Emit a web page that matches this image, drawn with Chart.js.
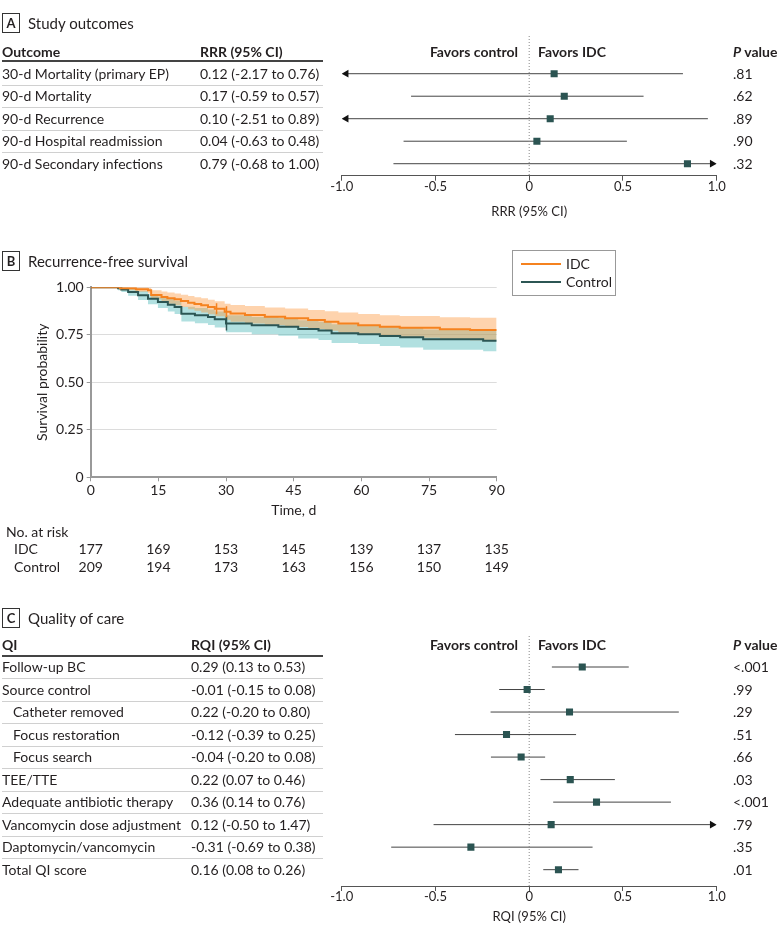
<!DOCTYPE html>
<html>
<head>
<meta charset="utf-8">
<script src="https://cdn.jsdelivr.net/npm/chart.js@4.4.1/dist/chart.umd.min.js"></script>
<style>
  body { margin: 0; background: #fff; }
  #page { position: relative; width: 783px; height: 936px; overflow: hidden; font-family: Lato, sans-serif; color: #231f20; }
  canvas { position: absolute; left: 0; }
  .t { position: absolute; white-space: nowrap; font-size: 14px; line-height: 16px; transform: translateY(-50%); }
  .b { font-weight: bold; }
  .r { transform: translate(-100%, -50%); }
  .rule { position: absolute; }
  .tag { position: absolute; left: 2px; width: 16px; height: 18px; border: 1px solid #333; font-weight: bold; font-size: 13px; line-height: 18px; text-align: center; }
  #legend { position: absolute; left: 512px; top: 250px; width: 102px; height: 44px; border: 1px solid #999; }
  .sw { position: absolute; left: 8px; width: 40px; height: 2px; }
</style>
</head>
<body>
<div id="page">
  <canvas id="forestA" width="783" height="230" style="top:0"></canvas>
  <canvas id="km" width="783" height="340" style="top:240px"></canvas>
  <canvas id="forestC" width="783" height="336" style="top:600px"></canvas>
  <div id="legend">
    <div class="sw" style="top:12px;background:#f5821f"></div>
    <div class="t" style="left:53px;top:13px">IDC</div>
    <div class="sw" style="top:30px;background:#2c5654"></div>
    <div class="t" style="left:53px;top:31px">Control</div>
  </div>
</div>
<script>
// Panel A: study outcomes
const outcomes = ["30-d Mortality (primary EP)", "90-d Mortality", "90-d Recurrence", "90-d Hospital readmission", "90-d Secondary infections"];
const outcomeCI = ["0.12 (-2.17 to 0.76)", "0.17 (-0.59 to 0.57)", "0.10 (-2.51 to 0.89)", "0.04 (-0.63 to 0.48)", "0.79 (-0.68 to 1.00)"];
const outcomeP = [".81", ".62", ".89", ".90", ".32"];
const outcomeEst = [0.133, 0.187, 0.112, 0.041, 0.844];
const outcomeLow = [-2.17, -0.63, -2.51, -0.67, -0.724];
const outcomeHigh = [0.82, 0.61, 0.953, 0.521, 1.0];

// Panel B: recurrence-free survival
const idcTime = [0, 6.5, 10, 12.7, 13.4, 15.7, 17, 18.6, 20, 21.6, 23, 24.5, 26, 27.5, 29.7, 31, 34.2, 38.6, 43.1, 48.2, 51.9, 54.9, 59.3, 64.1, 68.5, 77.4, 84.1, 90];
const idcSurv = [1, 0.995, 0.99, 0.984, 0.96, 0.949, 0.943, 0.937, 0.928, 0.919, 0.912, 0.905, 0.896, 0.887, 0.871, 0.862, 0.854, 0.845, 0.837, 0.828, 0.819, 0.81, 0.8, 0.793, 0.787, 0.779, 0.775, 0.775];
const idcUpper = [1, 1, 1, 0.998, 0.985, 0.978, 0.973, 0.968, 0.961, 0.954, 0.948, 0.942, 0.934, 0.927, 0.914, 0.907, 0.901, 0.894, 0.888, 0.881, 0.874, 0.867, 0.859, 0.853, 0.849, 0.843, 0.84, 0.84];
const idcLower = [1, 0.985, 0.976, 0.968, 0.937, 0.922, 0.914, 0.906, 0.896, 0.885, 0.876, 0.868, 0.858, 0.848, 0.829, 0.819, 0.81, 0.8, 0.791, 0.781, 0.771, 0.761, 0.75, 0.742, 0.735, 0.726, 0.721, 0.721];
const ctlTime = [0, 6.05, 6.8, 8.3, 10.5, 12.7, 14.9, 17.1, 18.6, 20.1, 23.1, 26, 27.5, 30, 35.7, 41.6, 46, 50.5, 53.4, 59.3, 64.1, 68.6, 73.7, 87, 90];
const ctlSurv = [1, 0.995, 0.989, 0.975, 0.958, 0.94, 0.923, 0.908, 0.896, 0.861, 0.853, 0.844, 0.832, 0.81, 0.8, 0.793, 0.78, 0.772, 0.758, 0.753, 0.744, 0.737, 0.726, 0.719, 0.719];
const ctlUpper = [1, 1, 0.999, 0.992, 0.98, 0.965, 0.951, 0.939, 0.929, 0.898, 0.891, 0.883, 0.872, 0.853, 0.844, 0.838, 0.826, 0.819, 0.806, 0.802, 0.794, 0.788, 0.778, 0.772, 0.772];
const ctlLower = [1, 0.985, 0.975, 0.955, 0.933, 0.911, 0.891, 0.873, 0.859, 0.82, 0.811, 0.801, 0.788, 0.764, 0.753, 0.745, 0.731, 0.722, 0.707, 0.701, 0.691, 0.683, 0.671, 0.663, 0.663];
const idcCensorTime = [27.9, 30.1];
const idcCensorSurv = [0.887, 0.871];
const ctlCensorTime = [30.1];
const ctlCensorSurv = [0.81];
const riskTimes = [0, 15, 30, 45, 60, 75, 90];
const riskIDC = [177, 169, 153, 145, 139, 137, 135];
const riskControl = [209, 194, 173, 163, 156, 150, 149];

// Panel C: quality of care
const qiLabels = ["Follow-up BC", "Source control", "Catheter removed", "Focus restoration", "Focus search", "TEE/TTE", "Adequate antibiotic therapy", "Vancomycin dose adjustment", "Daptomycin/vancomycin", "Total QI score"];
const qiIndent = [0, 0, 1, 1, 1, 0, 0, 0, 0, 0];
const qiCI = ["0.29 (0.13 to 0.53)", "-0.01 (-0.15 to 0.08)", "0.22 (-0.20 to 0.80)", "-0.12 (-0.39 to 0.25)", "-0.04 (-0.20 to 0.08)", "0.22 (0.07 to 0.46)", "0.36 (0.14 to 0.76)", "0.12 (-0.50 to 1.47)", "-0.31 (-0.69 to 0.38)", "0.16 (0.08 to 0.26)"];
const qiP = ["<.001", ".99", ".29", ".51", ".66", ".03", "<.001", ".79", ".35", ".01"];
const qiEst = [0.283, -0.011, 0.215, -0.121, -0.043, 0.219, 0.359, 0.117, -0.311, 0.156];
const qiLow = [0.121, -0.16, -0.206, -0.396, -0.204, 0.06, 0.128, -0.51, -0.736, 0.075];
const qiHigh = [0.531, 0.083, 0.798, 0.25, 0.085, 0.457, 0.756, 1.47, 0.338, 0.263];

const ORANGE = "#f5821f";
const TEAL = "#2c5654";
const SQUARE = "#2b5452";

Chart.defaults.font.family = "Lato, sans-serif";
Chart.defaults.color = "#231f20";

const page = document.getElementById("page");

function addText(x, y, html, cls) {
    const d = document.createElement("div");
    d.className = "t " + (cls || "");
    d.style.left = x + "px";
    d.style.top = y + "px";
    d.innerHTML = html;
    page.appendChild(d);
}

function addRule(x, y, w, h, color) {
    const d = document.createElement("div");
    d.className = "rule";
    d.style.cssText = `left:${x}px;top:${y}px;width:${w}px;height:${h}px;background:${color}`;
    page.appendChild(d);
}

function addTag(letter, top, title) {
    const d = document.createElement("div");
    d.className = "tag";
    d.style.top = top + "px";
    d.textContent = letter;
    page.appendChild(d);
    addText(28, top + 10, title, "");
    page.lastChild.style.fontSize = "15px";
}

// forest plot, rows drawn on a reversed linear y scale
function forest(id, est, low, high, yMin, yMax, title, pad) {
    const edge = 0.976;
    const datasets = [{
        data: [{x: 0, y: yMin}, {x: 0, y: yMax}],
        borderColor: "#888", borderWidth: 1, borderDash: [1, 2], pointRadius: 0
    }];
    est.forEach((v, i) => {
        datasets.push({
            data: [{x: Math.max(low[i], -edge), y: i}, {x: Math.min(high[i], edge), y: i}],
            borderColor: "#444", borderWidth: 1,
            pointStyle: "triangle",
            pointRadius: [low[i] < -1 ? 4.5 : 0, high[i] >= 1 ? 4.5 : 0],
            pointRotation: [-90, 90],
            pointBackgroundColor: "#111", pointBorderWidth: 0
        });
    });
    datasets.push({
        data: est.map((v, i) => ({x: v, y: i})),
        showLine: false, pointStyle: "rect", pointRadius: 5,
        pointBackgroundColor: SQUARE, pointBorderWidth: 0, order: -1
    });
    return new Chart(document.getElementById(id), {
        type: "line",
        data: {datasets},
        options: {
            responsive: false, animation: false, events: [],
            layout: {padding: pad.layout},
            plugins: {legend: {display: false}, tooltip: {enabled: false}},
            scales: {
                x: {
                    type: "linear", min: -1, max: 1,
                    ticks: {stepSize: 0.5, padding: -2, font: {size: 13}, maxRotation: 0,
                        callback: v => v === 0 ? "0" : v.toFixed(1)},
                    grid: {drawOnChartArea: false, tickLength: 5, color: "#555"},
                    border: {color: "#555"},
                    title: {display: true, text: title, font: {size: 13}, padding: {top: 0, bottom: pad.title}},
                    afterFit: s => { s.height = 50; }
                },
                y: {type: "linear", reverse: true, min: yMin, max: yMax, display: false}
            }
        }
    });
}

// ---------- Panel A ----------
addTag("A", 13, "Study outcomes");
const chartA = forest("forestA", outcomeEst, outcomeLow, outcomeHigh, -1.676, 4.533, "RRR (95% CI)",
    {layout: {left: 341.7, right: 66.3, top: 36, bottom: 4.3}, title: 5.6});
addText(2, 52, "Outcome", "b");
addText(200, 52, "RRR (95% CI)", "b");
addText(518, 52, "Favors control", "b r");
addText(538, 52, "Favors IDC", "b");
addText(733, 52, "<i>P</i> value", "b");
addRule(2, 60, 321, 2, "#444");
outcomes.forEach((name, i) => {
    const y = chartA.scales.y.getPixelForValue(i);
    addText(2, y, name);
    addText(200, y, outcomeCI[i]);
    addText(733, y, outcomeP[i]);
    if (i < outcomes.length - 1) addRule(2, y + 11, 321, 1, "#d0d0d0");
});

// ---------- Panel B ----------
addTag("B", 251, "Recurrence-free survival");

const toPts = (ts, ys) => ts.map((t, i) => ({x: t, y: ys[i]}));

const atRisk = {
    id: "atRisk",
    afterDraw(chart) {
        const ctx = chart.ctx, xs = chart.scales.x;
        ctx.save();
        ctx.font = "14px Lato, sans-serif";
        ctx.fillStyle = "#231f20";
        ctx.textBaseline = "middle";
        ctx.textAlign = "left";
        ctx.fillText("No. at risk", 6, 292);
        ctx.fillText("IDC", 14, 309.5);
        ctx.fillText("Control", 14, 327);
        ctx.textAlign = "center";
        riskTimes.forEach((t, i) => {
            const x = xs.getPixelForValue(t);
            ctx.fillText(String(riskIDC[i]), x, 309.5);
            ctx.fillText(String(riskControl[i]), x, 327);
        });
        ctx.restore();
    }
};

new Chart(document.getElementById("km"), {
    type: "line",
    data: {
        datasets: [
            {data: toPts(idcTime, idcUpper), stepped: true, borderWidth: 0, fill: "+1", backgroundColor: "rgba(253,150,60,0.42)", order: 3},
            {data: toPts(idcTime, idcLower), stepped: true, borderWidth: 0, fill: false, order: 3},
            {data: toPts(ctlTime, ctlUpper), stepped: true, borderWidth: 0, fill: "+1", backgroundColor: "rgba(70,180,180,0.42)", order: 4},
            {data: toPts(ctlTime, ctlLower), stepped: true, borderWidth: 0, fill: false, order: 4},
            {data: toPts(ctlTime, ctlSurv), stepped: true, borderColor: TEAL, borderWidth: 2, fill: false, order: 2},
            {data: toPts(idcTime, idcSurv), stepped: true, borderColor: ORANGE, borderWidth: 2, fill: false, order: 1},
            {data: toPts(idcCensorTime, idcCensorSurv), showLine: false, pointStyle: "line", pointRotation: 90,
                pointRadius: 5.5, pointBorderColor: ORANGE, pointBorderWidth: 1.5, order: 0},
            {data: toPts(ctlCensorTime, ctlCensorSurv), showLine: false, pointStyle: "line", pointRotation: 90,
                pointRadius: 7, pointBorderColor: TEAL, pointBorderWidth: 1.5, order: 0}
        ]
    },
    options: {
        responsive: false, animation: false, events: [],
        elements: {point: {radius: 0}},
        layout: {padding: {left: 30, right: 286.3, top: 47.3, bottom: 58.7}},
        plugins: {legend: {display: false}, tooltip: {enabled: false}},
        scales: {
            x: {
                type: "linear", min: 0, max: 90,
                ticks: {stepSize: 15, padding: 1, font: {size: 14}, maxRotation: 0},
                grid: {drawOnChartArea: false, tickLength: 4, color: "#999"},
                border: {color: "#999", width: 2},
                title: {display: true, text: "Time, d", font: {size: 14}, padding: {top: 0, bottom: 2}},
                afterFit: s => { s.height = 44; }
            },
            y: {
                min: 0, max: 1,
                ticks: {stepSize: 0.25, padding: 3, font: {size: 14},
                    callback: v => v === 0 ? "0" : v.toFixed(2)},
                grid: {color: "#dcdcdc", tickColor: "#999", tickLength: 4},
                border: {color: "#999", width: 2},
                title: {display: true, text: "Survival probability", font: {size: 14}, padding: {top: 4, bottom: 0}},
                afterFit: s => { s.width = 60.7; }
            }
        }
    },
    plugins: [atRisk]
});

// ---------- Panel C ----------
addTag("C", 608, "Quality of care");
const chartC = forest("forestC", qiEst, qiLow, qiHigh, -1.377, 9.725, "RQI (95% CI)",
    {layout: {left: 341.7, right: 66.3, top: 36, bottom: 0}, title: 11.6});
addText(2, 645, "QI", "b");
addText(191, 645, "RQI (95% CI)", "b");
addText(518, 645, "Favors control", "b r");
addText(538, 645, "Favors IDC", "b");
addText(733, 645, "<i>P</i> value", "b");
addRule(2, 655, 321, 2, "#444");
qiLabels.forEach((name, i) => {
    const y = chartC.scales.y.getPixelForValue(i) + 600;
    addText(2 + qiIndent[i] * 11, y, name);
    addText(191, y, qiCI[i]);
    addText(733, y, qiP[i]);
    if (i < qiLabels.length - 1) addRule(2, y + 11, 321, 1, "#d0d0d0");
});
</script>
</body>
</html>
